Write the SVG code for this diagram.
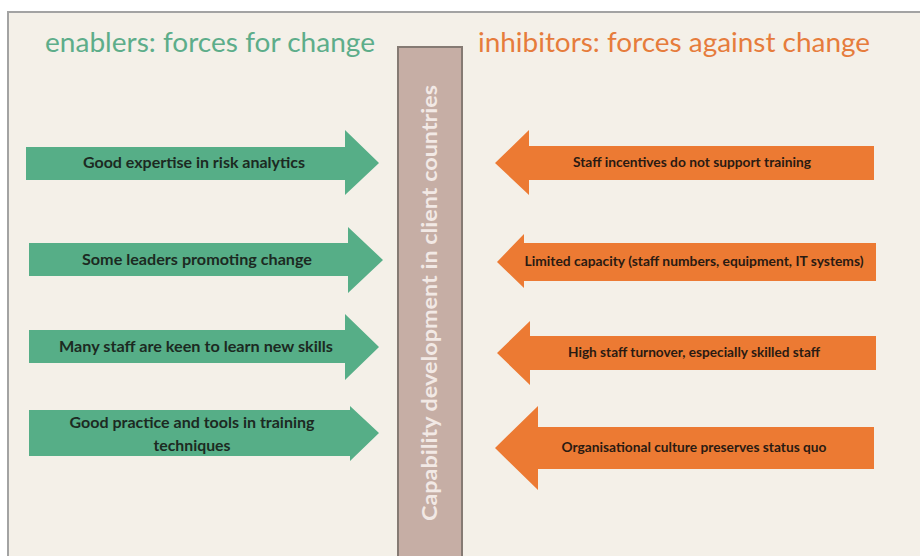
<svg xmlns="http://www.w3.org/2000/svg" width="920" height="556" viewBox="0 0 920 556">
  <style>
    .title { font-family: Lato, "Open Sans", "Liberation Sans", sans-serif; font-size: 26px; }
    .enab { fill: #5dad8a; }
    .inhib { fill: #e67c3c; }
    .garrow { fill: #56ae87; }
    .oarrow { fill: #ec7a33; }
    .glabel { font-family: Lato, "Open Sans", "Liberation Sans", sans-serif; font-size: 15px; font-weight: bold; fill: #1c2a22; text-anchor: middle; }
    .olabel { font-family: Lato, "Open Sans", "Liberation Sans", sans-serif; font-size: 13px; font-weight: bold; fill: #2a1a12; text-anchor: middle; }
    .bar { fill: #c6aea5; stroke: #857a73; stroke-width: 2; }
    .bartext { font-family: Lato, "Open Sans", "Liberation Sans", sans-serif; font-size: 20px; font-weight: bold; fill: #f2e9e5; text-anchor: middle; }
  </style>

  <!-- page -->
  <rect x="0" y="0" width="920" height="556" fill="#ffffff"/>
  <rect x="8" y="12" width="930" height="560" fill="#f4f0e8" stroke="#a3a3a3" stroke-width="2"/>

  <!-- headings -->
  <text class="title enab" x="45" y="52" textLength="330" lengthAdjust="spacingAndGlyphs">enablers: forces for change</text>
  <text class="title inhib" x="478" y="52" textLength="392" lengthAdjust="spacingAndGlyphs">inhibitors: forces against change</text>

  <!-- central subject -->
  <g id="subject">
    <rect class="bar" x="398" y="47" width="64" height="520"/>
    <text class="bartext" transform="translate(437 303) rotate(-90)" textLength="436" lengthAdjust="spacingAndGlyphs">Capability development in client countries</text>
  </g>

  <!-- enabling forces -->
  <g id="enabler-1">
    <polygon class="garrow" points="26,147 345,147 345,130 379,163 345,195 345,180 26,180"/>
    <text class="glabel" x="194" y="168" textLength="222" lengthAdjust="spacingAndGlyphs">Good expertise in risk analytics</text>
  </g>
  <g id="enabler-2">
    <polygon class="garrow" points="29,243 348,243 348,227 383,260 348,293 348,276 29,276"/>
    <text class="glabel" x="197" y="265" textLength="230" lengthAdjust="spacingAndGlyphs">Some leaders promoting change</text>
  </g>
  <g id="enabler-3">
    <polygon class="garrow" points="29,330 345,330 345,314 379,347 345,380 345,363 29,363"/>
    <text class="glabel" x="196" y="352" textLength="274" lengthAdjust="spacingAndGlyphs">Many staff are keen to learn new skills</text>
  </g>
  <g id="enabler-4">
    <polygon class="garrow" points="29,410 350,410 350,406 379,433 350,461 350,456 29,456"/>
    <text class="glabel" x="192" y="428" textLength="245" lengthAdjust="spacingAndGlyphs">Good practice and tools in training</text>
    <text class="glabel" x="192" y="451" textLength="77" lengthAdjust="spacingAndGlyphs">techniques</text>
  </g>

  <!-- inhibiting forces -->
  <g id="inhibitor-1">
    <polygon class="oarrow" points="874,146 529,146 529,130 495,163 529,195 529,180 874,180"/>
    <text class="olabel" x="692" y="167" textLength="238" lengthAdjust="spacingAndGlyphs">Staff incentives do not support training</text>
  </g>
  <g id="inhibitor-2">
    <polygon class="oarrow" points="876,243 524,243 524,234 497,262 524,288 524,281 876,281"/>
    <text class="olabel" x="694" y="266" textLength="339" lengthAdjust="spacingAndGlyphs">Limited capacity (staff numbers, equipment, IT systems)</text>
  </g>
  <g id="inhibitor-3">
    <polygon class="oarrow" points="876,336 530,336 530,321 497,353 530,385 530,370 876,370"/>
    <text class="olabel" x="694" y="357" textLength="252" lengthAdjust="spacingAndGlyphs">High staff turnover, especially skilled staff</text>
  </g>
  <g id="inhibitor-4">
    <polygon class="oarrow" points="874,427 538,427 538,406 495,448 538,490 538,469 874,469"/>
    <text class="olabel" x="694" y="452" textLength="265" lengthAdjust="spacingAndGlyphs">Organisational culture preserves status quo</text>
  </g>

  <g id="connectors"/>
</svg>
